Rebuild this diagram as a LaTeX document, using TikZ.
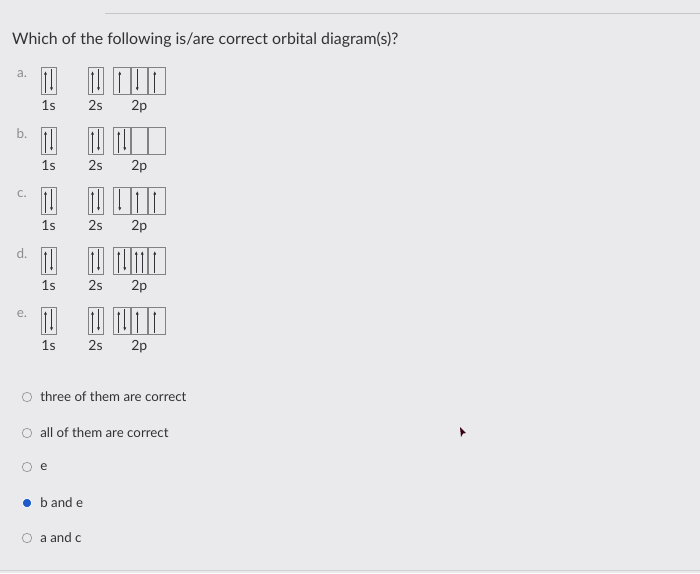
\documentclass[tikz,border=0pt]{standalone}
\usepackage{fontspec}
\setmainfont{Lato}
\usetikzlibrary{arrows.meta,positioning}
\definecolor{bgcol}{RGB}{234,234,236}
\definecolor{textcol}{RGB}{50,50,54}
\definecolor{boxcol}{RGB}{130,130,130}
\definecolor{radiocol}{RGB}{150,150,150}
\definecolor{selcol}{RGB}{30,90,200}

\tikzset{
  orb/.style={draw=boxcol, line width=0.8pt, minimum width=15pt, minimum height=27pt, inner sep=0pt},
  porb/.style={orb, minimum width=16.7pt},
  eline/.style={draw=textcol, line width=0.6pt, -{Latex[length=3.5pt,width=3pt]}},
  sublbl/.style={text=textcol, font=\fontsize{14}{16}\selectfont, inner sep=0pt},
  rowlbl/.style={text=gray!90, font=\fontsize{13.5}{15}\selectfont, inner sep=0pt},
  radio/.style={circle, draw=radiocol, line width=0.7pt, minimum size=9.5pt, inner sep=0pt},
  opt/.style={text=textcol, font=\fontsize{13.3}{15}\selectfont, inner sep=0pt, anchor=west}
}
% electron arrows: box, x offset
\newcommand{\eup}[2]{\draw[eline] ([xshift=#2,yshift=2pt]#1.south) -- ([xshift=#2,yshift=-4pt]#1.north);}
\newcommand{\edown}[2]{\draw[eline] ([xshift=#2,yshift=-2pt]#1.north) -- ([xshift=#2,yshift=4pt]#1.south);}

\begin{document}
\begin{tikzpicture}[x=1pt,y=-1pt]
\fill[bgcol] (0,0) rectangle (700,573);
\useasboundingbox (0,0) rectangle (700,573);
\draw[gray!45, line width=0.8pt] (105,13) -- (700,13);
\draw[gray!35, line width=0.8pt] (0,570) -- (700,570);

\node[anchor=west, text=textcol, font=\fontsize{15.9}{18}\selectfont, inner sep=0pt] (question) at (12,40)
  {Which of the following is/are correct orbital diagram(s)?};

% rows a to e
\foreach \r/\y in {a/81, b/141, c/201, d/261, e/321} {
  \node[rowlbl] (lbl\r) at (22,\y-7) {\r.};
  \node[orb] (s1\r) at (48.5,\y) {};
  \node[orb] (s2\r) at (95.5,\y) {};
  \node[porb, anchor=west] (px\r) at (113,\y) {};
  \node[porb, right=0pt of px\r] (py\r) {};
  \node[porb, right=0pt of py\r] (pz\r) {};
  \node[sublbl, below=5pt of s1\r] (t1\r) {1s};
  \node[sublbl, below=5pt of s2\r] (t2\r) {2s};
  \node[sublbl, below=5pt of py\r] (t3\r) {2p};
  \eup{s1\r}{-3pt} \edown{s1\r}{3pt}
  \eup{s2\r}{-3pt} \edown{s2\r}{3pt}
}

% 2p electrons
\eup{pxa}{-2pt} \edown{pya}{-2pt} \eup{pza}{-2pt}
\eup{pxb}{-3pt} \edown{pxb}{3pt}
\edown{pxc}{-2pt} \eup{pyc}{-2pt} \eup{pzc}{-2pt}
\eup{pxd}{-3pt} \edown{pxd}{3pt} \eup{pyd}{-3pt} \eup{pyd}{3pt} \eup{pzd}{-2pt}
\eup{pxe}{-3pt} \edown{pxe}{3pt} \eup{pye}{-2pt} \eup{pze}{-2pt}

% answer choices
\node[radio] (r1) at (27,397) {};
\node[radio] (r2) at (27,433) {};
\node[radio] (r3) at (27,467) {};
\node[radio, draw=white, fill=selcol] (r4) at (27,503) {};
\node[radio] (r5) at (27,538) {};
\node[opt, right=8pt of r1] (o1) {three of them are correct};
\node[opt, right=8pt of r2] (o2) {all of them are correct};
\node[opt, right=8pt of r3] (o3) {e};
\node[opt, right=8pt of r4] (o4) {b and e};
\node[opt, right=8pt of r5] (o5) {a and c};

% pointer
\fill[black!70!purple] (460,427) -- (466,433) -- (463,433.5) -- (461,437) -- cycle;
\end{tikzpicture}
\end{document}
